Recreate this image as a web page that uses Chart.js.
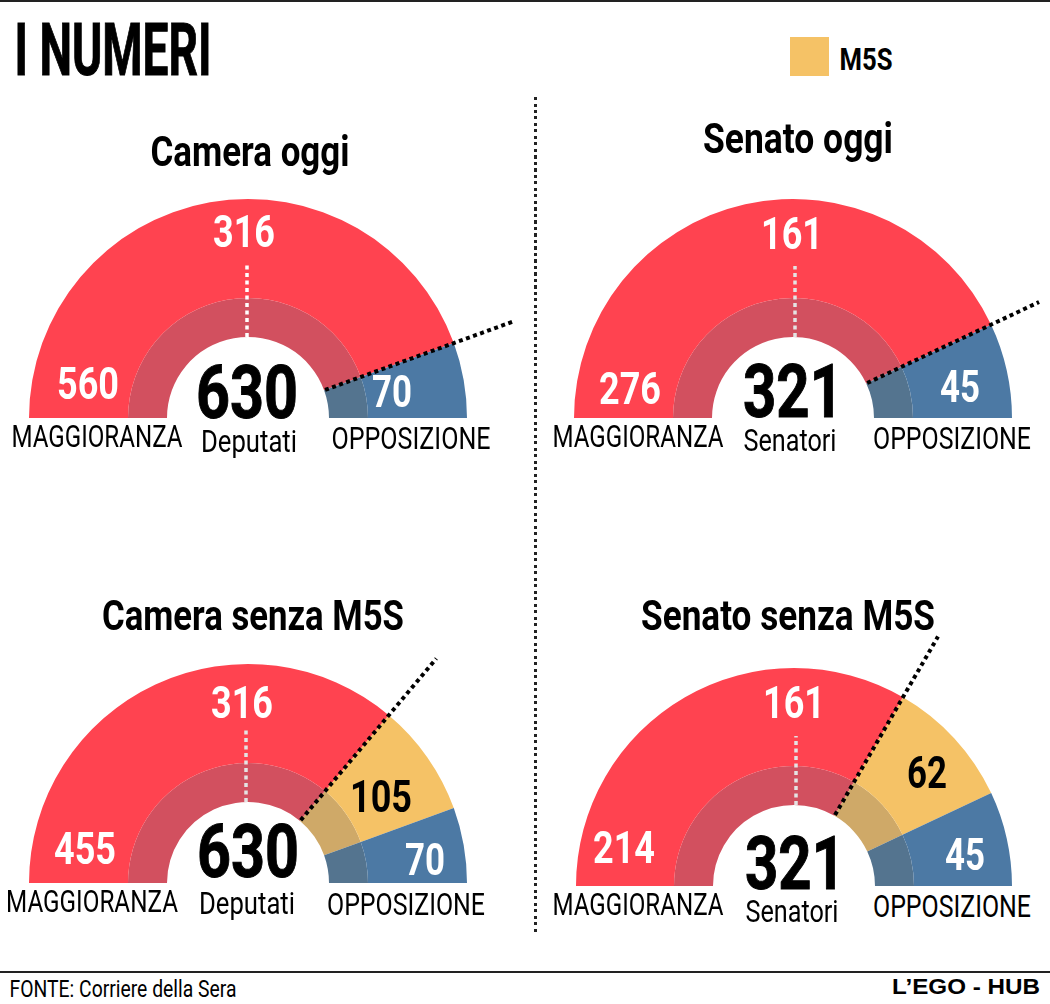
<!DOCTYPE html>
<html>
<head>
<meta charset="utf-8">
<title>I numeri</title>
<script src="https://cdn.jsdelivr.net/npm/chart.js@4"></script>
<style>
    html, body { margin: 0; padding: 0; background: #fff; }
    #page { position: relative; width: 1050px; height: 1004px; overflow: hidden; background: #fff; }
    #page canvas { position: absolute; }
    .t { position: absolute; white-space: nowrap; line-height: 1; font-family: "Liberation Sans Narrow", "Roboto", sans-serif; color: #000; }
    .rule { position: absolute; left: 0; width: 1050px; background: #222; }
    #divider { position: absolute; left: 534px; top: 97px; width: 3px; height: 838px;
        background: repeating-linear-gradient(to bottom, #222 0 3px, transparent 3px 6.5px); }
    #swatch { position: absolute; left: 790px; top: 37px; width: 39px; height: 39px; background: #F5C266; }
</style>
</head>
<body>
<div id="page">
    <div class="rule" style="top:0;height:2px"></div>
    <div class="rule" style="top:971px;height:2px"></div>
    <div id="divider"></div>
    <div id="swatch"></div>
</div>
<script>
const categories = ["MAGGIORANZA", "M5S", "OPPOSIZIONE"];
const cameraOggi = [560, 0, 70];
const senatoOggi = [276, 0, 45];
const cameraSenza = [455, 105, 70];
const senatoSenza = [214, 62, 45];
const soglie = [316, 161, 316, 161];
const totali = [630, 321, 630, 321];

const outerColors = ["#FF4350", "#F5C266", "#4C79A4"];
const ringColors = ["#D2505F", "#CFA968", "#54748F"];

const page = document.getElementById("page");

// width is the width the text has in the picture, the font gets squeezed to it
function addText(text, x, y, size, width, options) {
    options = options || {};
    const el = document.createElement("div");
    el.className = "t";
    el.textContent = text;
    el.style.fontSize = size + "px";
    el.style.fontWeight = options.weight || "normal";
    el.style.color = options.color || "#000";
    if (options.font) el.style.fontFamily = options.font;
    if (options.stroke) el.style.webkitTextStroke = options.stroke + "px currentColor";
    page.appendChild(el);
    const scale = width / el.getBoundingClientRect().width;
    el.style.left = x + "px";
    el.style.top = y + "px";
    el.style.transform = "translate(-50%, -50%) scaleX(" + scale + ")";
}

const lines = {
    id: "lines",
    afterDatasetsDraw(chart, args, opts) {
        const ctx = chart.ctx;
        const arcs = chart.getDatasetMeta(0).data;
        const cx = arcs[0].x;
        const cy = arcs[0].y;
        const angle = arcs[0].endAngle;
        ctx.save();

        ctx.strokeStyle = opts.midColor;
        ctx.lineWidth = 3.5;
        ctx.setLineDash([4, 3.5]);
        ctx.beginPath();
        ctx.moveTo(cx + opts.midShift, cy - 81);
        ctx.lineTo(cx + opts.midShift, cy - opts.midTop);
        ctx.stroke();

        ctx.strokeStyle = "#000";
        ctx.lineWidth = 4;
        ctx.setLineDash([4, 3.5]);
        ctx.beginPath();
        ctx.moveTo(cx + 82 * Math.cos(angle), cy + 82 * Math.sin(angle));
        ctx.lineTo(cx + opts.reach * Math.cos(angle), cy + opts.reach * Math.sin(angle));
        ctx.stroke();
        ctx.restore();
    }
};

function drawChart(values, cx, baseY, radius, reach, midColor, midShift, midTop) {
    const canvas = document.createElement("canvas");
    canvas.width = 600;
    canvas.height = 340;
    canvas.style.left = (cx - 300) + "px";
    canvas.style.top = (baseY - 340) + "px";
    page.appendChild(canvas);

    new Chart(canvas, {
        type: "doughnut",
        data: {
            labels: categories,
            datasets: [
                { data: values, backgroundColor: outerColors, borderWidth: 0, weight: radius - 120 },
                { data: values, backgroundColor: ringColors, borderWidth: 0, weight: 39 }
            ]
        },
        options: {
            responsive: false,
            animation: false,
            rotation: -90,
            circumference: 180,
            cutout: (81 / radius * 100) + "%",
            layout: { padding: { left: 300 - radius, right: 300 - radius, top: 340 - radius, bottom: 0 } },
            plugins: {
                legend: { display: false },
                tooltip: { enabled: false },
                lines: { reach: reach, midColor: midColor, midShift: midShift, midTop: midTop }
            }
        },
        plugins: [lines]
    });
}

drawChart(cameraOggi, 248, 418, 219, 282, "#fff", -1, 155);
drawChart(senatoOggi, 793, 418, 219, 272, "#e4e4e4", 2, 152);
drawChart(cameraSenza, 248, 883, 219, 293, "#e4e4e4", -2, 154);
drawChart(senatoSenza, 794, 886, 218, 288, "#e4e4e4", 2, 150);

const white = { weight: "bold", color: "#fff" };
const bold = { weight: "bold" };
const heavy = { weight: "bold", stroke: 1 };

addText("I NUMERI", 113, 50, 73, 197, heavy);
addText(categories[1], 866, 59, 31, 53, bold);

addText("Camera oggi", 250, 152, 42, 199, bold);
addText("Senato oggi", 798, 139, 42, 190, bold);
addText("Camera senza M5S", 253, 616, 42, 302, bold);
addText("Senato senza M5S", 788, 616, 42, 294, bold);

addText(String(soglie[0]), 244, 232, 44, 62, white);
addText(String(cameraOggi[0]), 88, 384, 44, 62, white);
addText(String(cameraOggi[2]), 392, 392, 44, 40, white);
addText(String(totali[0]), 247, 392, 75, 102, heavy);
addText("Deputati", 249, 441, 31, 96);
addText(categories[0], 97, 436, 31, 171);
addText(categories[2], 411, 438, 31, 159);

addText(String(soglie[1]), 792, 234, 44, 62, white);
addText(String(senatoOggi[0]), 630, 389, 44, 62, white);
addText(String(senatoOggi[2]), 960, 387, 44, 40, white);
addText(String(totali[1]), 793, 391, 75, 100, heavy);
addText("Senatori", 790, 440, 31, 93);
addText(categories[0], 638, 436, 31, 171);
addText(categories[2], 952, 438, 31, 158);

addText(String(soglie[2]), 242, 703, 44, 62, white);
addText(String(cameraSenza[0]), 85, 849, 44, 62, white);
addText(String(cameraSenza[1]), 381, 797, 44, 62, bold);
addText(String(cameraSenza[2]), 425, 860, 44, 40, white);
addText(String(totali[2]), 248, 851, 75, 102, heavy);
addText("Deputati", 247, 903, 31, 96);
addText(categories[0], 92, 901, 31, 172);
addText(categories[2], 406, 904, 31, 158);

addText(String(soglie[3]), 794, 703, 44, 62, white);
addText(String(senatoSenza[0]), 624, 848, 44, 62, white);
addText(String(senatoSenza[1]), 927, 773, 44, 40, bold);
addText(String(senatoSenza[2]), 965, 855, 44, 40, white);
addText(String(totali[3]), 795, 863, 75, 100, heavy);
addText("Senatori", 792, 911, 31, 93);
addText(categories[0], 638, 904, 31, 171);
addText(categories[2], 952, 906, 31, 158);

addText("FONTE: Corriere della Sera", 123, 989, 24, 227);
addText("L\u2019EGO - HUB", 966, 987, 22, 148, { weight: "bold", font: "'Liberation Sans', sans-serif" });
</script>
</body>
</html>
